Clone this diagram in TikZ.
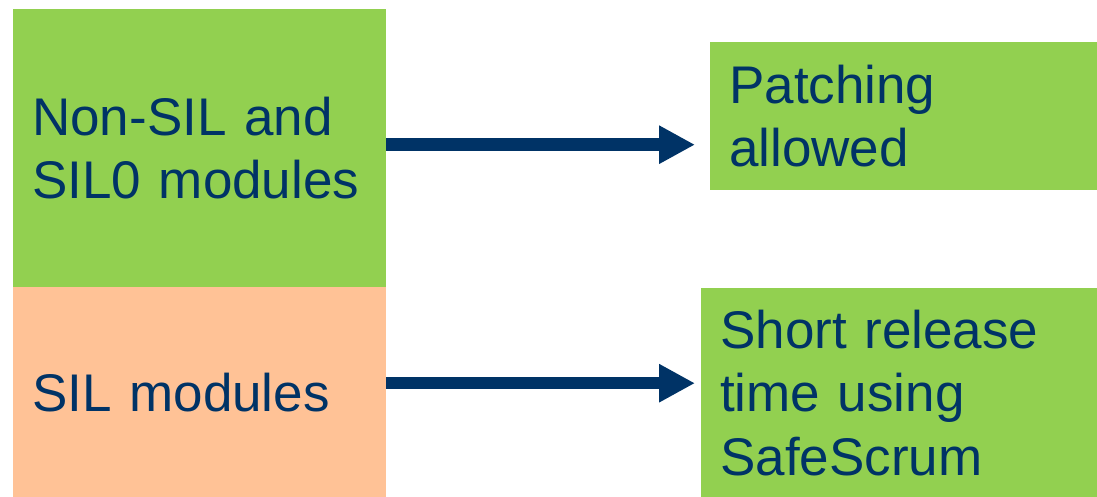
\documentclass[tikz,border=0pt]{standalone}
\usepackage{fontspec}
\setmainfont{Liberation Sans}
\usetikzlibrary{arrows.meta}

\definecolor{leafgreen}{HTML}{92D050}
\definecolor{peach}{HTML}{FFC296}
\definecolor{navy}{HTML}{003366}

\tikzset{
  panel/.style={rectangle, draw=none, anchor=north west, inner xsep=19bp,
    inner ysep=0pt, align=left, text=navy,
    font=\fontsize{53bp}{63.5bp}\selectfont},
  flow/.style={draw=navy, line width=12.5bp,
    -{Triangle[length=36bp,width=36bp]}, fill=navy}
}

\begin{document}
\begin{tikzpicture}[x=1bp, y=-1bp]
  \useasboundingbox (0,0) rectangle (1097,497);

  % left column: module categories
  \node[panel, fill=leafgreen, text width=335bp, minimum width=373bp,
        minimum height=278bp] (nonsil) at (13,9) {Non-SIL and\\SIL0 modules};
  \node[panel, fill=peach, text width=335bp, minimum width=373bp,
        minimum height=210bp] (sil) at (13,287) {SIL modules};

  % right column: consequences
  \node[panel, fill=leafgreen, text width=349bp, minimum width=387bp,
        minimum height=148bp] (patch) at (710,42) {Patching\\allowed};
  \node[panel, fill=leafgreen, text width=358bp, minimum width=396bp,
        minimum height=209bp] (short) at (701,288)
        {Short release\\time using\\SafeScrum};

  % arrow start and end points, slightly above the box centres
  \coordinate (a1) at ([yshift=3.5bp]nonsil.east);
  \coordinate (b1) at ([xshift=-15bp]patch.west |- a1);
  \coordinate (a2) at ([yshift=9bp]sil.east);
  \coordinate (b2) at ([xshift=-6bp]short.west |- a2);

  \draw[flow] (a1) -- (b1);
  \draw[flow] (a2) -- (b2);
\end{tikzpicture}
\end{document}
